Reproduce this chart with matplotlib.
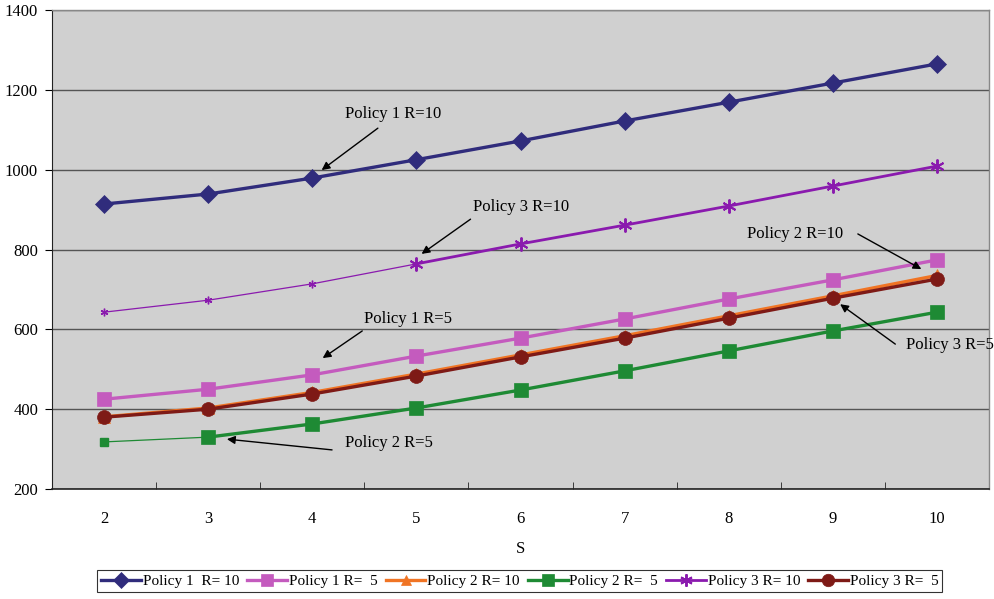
import numpy as np
import matplotlib
matplotlib.use('Agg')
import matplotlib.pyplot as plt

plt.rcParams['font.family'] = ['Liberation Serif', 'DejaVu Serif']

S = [2, 3, 4, 5, 6, 7, 8, 9, 10]
p1_r10 = [914, 939, 979, 1025, 1072, 1122, 1169, 1217, 1265]
p1_r5 = [425, 450, 486, 533, 578, 626, 676, 724, 774]
p2_r10 = [381, 403, 442, 488, 536, 584, 634, 684, 735]
p2_r5 = [318, 330, 363, 403, 448, 496, 546, 596, 643]
p3_r10 = [643, 673, 714, 764, 814, 861, 909, 959, 1009]
p3_r5 = [380, 400, 438, 483, 531, 578, 628, 678, 726]

# (label, values, color, marker, size, width, index where thick line starts)
series = [
    ('Policy 1  R= 10', p1_r10, '#302C7C', 'D', 9, 2.4, 0),
    ('Policy 1 R=  5', p1_r5, '#C45BBE', 's', 10, 2.4, 0),
    ('Policy 2 R= 10', p2_r10, '#F07424', '^', 8, 2.4, 0),
    ('Policy 2 R=  5', p2_r5, '#1E8A34', 's', 10, 2.4, 1),
    ('Policy 3 R= 10', p3_r10, '#8A1AAE', (6, 2, 0), 10, 2.0, 3),
    ('Policy 3 R=  5', p3_r5, '#7E1A16', 'o', 10, 2.4, 0),
]

fig = plt.figure(figsize=(9.94, 5.99), dpi=100)
ax = fig.add_axes([0.0523, 0.1836, 0.9427, 0.7997])
ax.set_facecolor('#D0D0D0')

x = np.array(S)
handles = []
for label, vals, color, marker, ms, lw, k in series:
    vals = np.array(vals)
    # early points are plotted thin with small markers
    if k > 0:
        ax.plot(x[:k + 1], vals[:k + 1], color=color, lw=0.9, zorder=3)
        ax.plot(x[:k], vals[:k], ls='none', marker=marker, color=color,
                ms=ms * 0.55, mew=1.0, zorder=4)
    h, = ax.plot(x[k:], vals[k:], color=color, lw=lw, marker=marker,
                 ms=ms, mew=1.4 if marker == (6, 2, 0) else 0.5, mec=color,
                 label=label, zorder=4)
    handles.append(h)

ax.set_xlim(1.5, 10.5)
ax.set_ylim(200, 1400)
ax.set_yticks(range(200, 1401, 200))
ax.set_xticks(S)
ax.set_xticks(np.arange(2.5, 10.5, 1), minor=True)
ax.tick_params(axis='x', which='major', length=0, pad=16, labelsize=12)
ax.tick_params(axis='x', which='minor', length=5, direction='in', color='#222222')
ax.tick_params(axis='y', length=5, direction='out', labelsize=12, pad=5)
ax.grid(axis='y', color='#555555', lw=1.0, zorder=1)
ax.set_axisbelow(True)
for side in ['top', 'right']:
    ax.spines[side].set_color('#888888')
    ax.spines[side].set_linewidth(1.0)
ax.spines['left'].set_color('#222222')
ax.spines['bottom'].set_color('#222222')
ax.spines['bottom'].set_linewidth(1.2)
ax.set_xlabel('S', fontsize=12, labelpad=10)

arrow = dict(arrowstyle='-|>', color='black', lw=1.0, mutation_scale=12,
             shrinkA=0, shrinkB=0)
# (text, arrow head, arrow tail, text anchor, alignment)
notes = [
    ('Policy 1 R=10', (4.09, 999), (4.63, 1104), (4.31, 1139), 'left'),
    ('Policy 3 R=10', (5.05, 789), (5.52, 876), (5.54, 906), 'left'),
    ('Policy 2 R=10', (9.85, 751), (9.24, 839), (9.10, 839), 'right'),
    ('Policy 3 R=5', (9.07, 663), (9.60, 563), (9.70, 561), 'left'),
    ('Policy 1 R=5', (4.10, 528), (4.48, 596), (4.50, 626), 'left'),
    ('Policy 2 R=5', (3.18, 325), (4.19, 298), (4.31, 315), 'left'),
]
for text, head, tail, pos, ha in notes:
    ax.annotate('', xy=head, xytext=tail, arrowprops=arrow, zorder=5)
    ax.text(pos[0], pos[1], text, fontsize=12, va='center', ha=ha, zorder=5)

leg = fig.legend(handles=handles, loc='center', bbox_to_anchor=(0.523, 0.0300),
                 ncol=6, frameon=True, fancybox=False, fontsize=11,
                 handlelength=2.6, handletextpad=0.1, columnspacing=0.55,
                 borderpad=0.25, edgecolor='black', markerscale=0.9)
leg.get_frame().set_linewidth(0.8)

fig.savefig('out.png', dpi=100)
